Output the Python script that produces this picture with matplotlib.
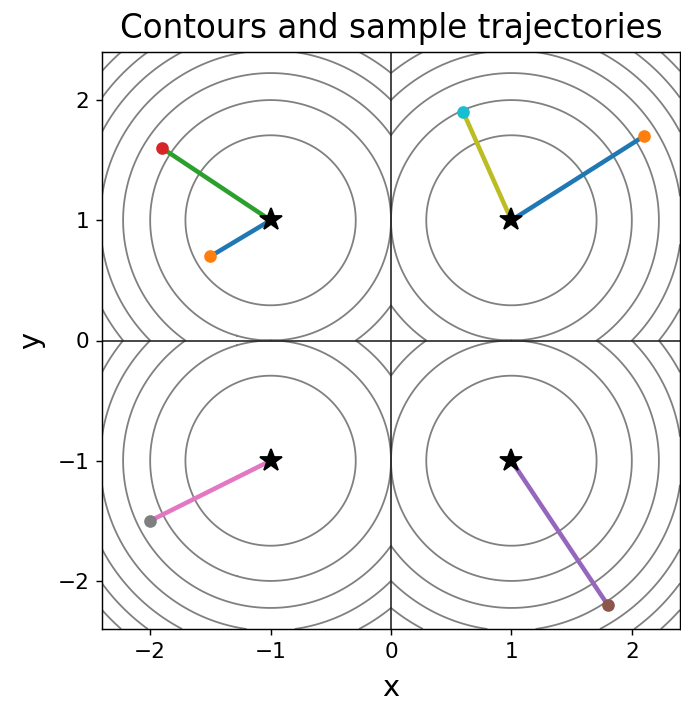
import numpy as np
import matplotlib
matplotlib.use("Agg")
import matplotlib.pyplot as plt

# minima of f(x, y) = (|x|-1)^2 + (|y|-1)^2
minima_x = [-1, 1, -1, 1]
minima_y = [1, 1, -1, -1]

# sample trajectories: start point -> minimum
start_x = [-1.5, -1.9, 1.8, -2.0, 0.6, 2.1]
start_y = [0.7, 1.6, -2.2, -1.5, 1.9, 1.7]
end_x = [-1, -1, 1, -1, 1, 1]
end_y = [1, 1, -1, -1, 1, 1]

levels = [0.5, 1.0, 1.5, 2.0, 2.5, 3.0, 3.5]

xs = np.linspace(-2.4, 2.4, 601)
X, Y = np.meshgrid(xs, xs)
Z = (np.abs(X) - 1) ** 2 + (np.abs(Y) - 1) ** 2

DPI = 130
fig = plt.figure(figsize=(681 / DPI, 706 / DPI), dpi=DPI)
ax = fig.add_axes([102 / 681, 1 - 629 / 706, 578 / 681, 577 / 706])

ax.contour(X, Y, Z, levels=levels, colors="gray", linewidths=1.0)
ax.axhline(0, color="#222222", lw=0.9)
ax.axvline(0, color="#222222", lw=0.9)

for sx, sy, ex, ey in zip(start_x, start_y, end_x, end_y):
    ax.plot([sx, ex], [sy, ey], lw=2.5)
    ax.plot(sx, sy, "o", ms=6)

ax.plot(minima_x, minima_y, "k*", ms=13)

ax.set_xlim(-2.4, 2.4)
ax.set_ylim(-2.4, 2.4)
ax.set_xticks([-2, -1, 0, 1, 2])
ax.set_yticks([-2, -1, 0, 1, 2])
ax.tick_params(labelsize=12)
ax.set_xlabel("x", fontsize=16, labelpad=7)
ax.set_ylabel("y", fontsize=16, labelpad=7)
ax.set_title("Contours and sample trajectories", fontsize=18, pad=8)

fig.savefig("out.png", dpi=DPI)
